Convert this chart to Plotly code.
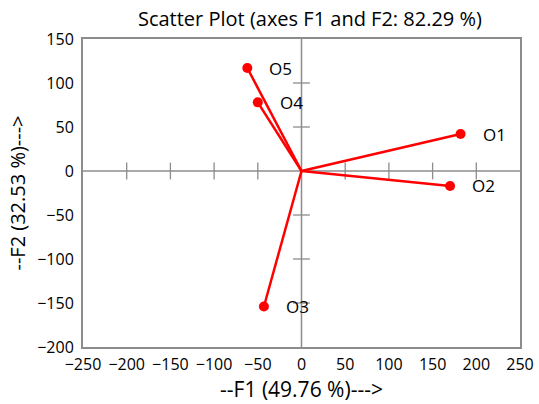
import plotly.graph_objects as go

names = ["O1", "O2", "O3", "O4", "O5"]
f1 = [182, 170, -43, -50, -62]
f2 = [42, -17, -154, 78, 117]
x_ticks = [-250, -200, -150, -100, -50, 0, 50, 100, 150, 200, 250]
y_ticks = [-200, -150, -100, -50, 0, 50, 100, 150]

FONT = "Open Sans"
RED = "#ff0000"
GREY = "#8c8c8c"

fig = go.Figure()

# tick crosses along the zero lines
xt = [v for v in x_ticks if v not in (0, x_ticks[0], x_ticks[-1])]
yt = [v for v in y_ticks if v not in (0, y_ticks[0], y_ticks[-1])]
fig.add_trace(go.Scatter(x=xt, y=[0] * len(xt), mode="markers",
                         marker=dict(symbol="line-ns-open", size=12, color=GREY,
                                     line=dict(color=GREY, width=1.3)),
                         hoverinfo="skip", showlegend=False))
fig.add_trace(go.Scatter(x=[0] * len(yt), y=yt, mode="markers",
                         marker=dict(symbol="line-ew-open", size=12, color=GREY,
                                     line=dict(color=GREY, width=1.3)),
                         hoverinfo="skip", showlegend=False))

# vectors from origin
lx, ly = [], []
for a, b in zip(f1, f2):
    lx += [0, a, None]
    ly += [0, b, None]
fig.add_trace(go.Scatter(x=lx, y=ly, mode="lines", line=dict(color=RED, width=2.5),
                         hoverinfo="skip", showlegend=False))
fig.add_trace(go.Scatter(x=f1, y=f2, mode="markers", marker=dict(color=RED, size=10),
                         text=names, showlegend=False))

for n, a, b in zip(names, f1, f2):
    fig.add_annotation(x=a, y=b, text=n, showarrow=False, xanchor="left", yanchor="middle",
                       xshift=20, font=dict(family=FONT, size=17, color="black"))

fig.add_shape(type="line", x0=0, x1=0, y0=y_ticks[0], y1=y_ticks[-1],
              line=dict(color=GREY, width=1.5), layer="below")
fig.add_shape(type="line", x0=x_ticks[0], x1=x_ticks[-1], y0=0, y1=0,
              line=dict(color=GREY, width=1.5), layer="below")

fig.update_layout(
    width=539, height=404,
    margin=dict(l=83, r=19, t=39, b=57, autoexpand=False),
    paper_bgcolor="white", plot_bgcolor="white",
    font=dict(family=FONT, size=16, color="black"),
    title=dict(text="Scatter Plot (axes F1 and F2: 82.29 %)", x=0.575, xanchor="center",
               y=0.952, yanchor="middle", font=dict(family=FONT, size=20, color="black")),
    xaxis=dict(range=[x_ticks[0], x_ticks[-1]], tickvals=x_ticks, showgrid=False, zeroline=False,
               showline=True, mirror=True, linecolor=GREY, linewidth=2, ticks="",
               tickfont=dict(size=16), ticklabelstandoff=2, automargin=False,
               title=dict(text="--F1 (49.76 %)--->", font=dict(size=21), standoff=6)),
    yaxis=dict(range=[y_ticks[0], y_ticks[-1]], tickvals=y_ticks, showgrid=False, zeroline=False,
               showline=True, mirror=True, linecolor=GREY, linewidth=2, ticks="",
               tickfont=dict(size=16), automargin=False, ticklabelstandoff=4,
               title=dict(text="--F2 (32.53 %)--->", font=dict(size=20), standoff=6)),
)

fig.write_html("out.html", config={"displayModeBar": False},
               post_script="document.body.style.margin='0';")
